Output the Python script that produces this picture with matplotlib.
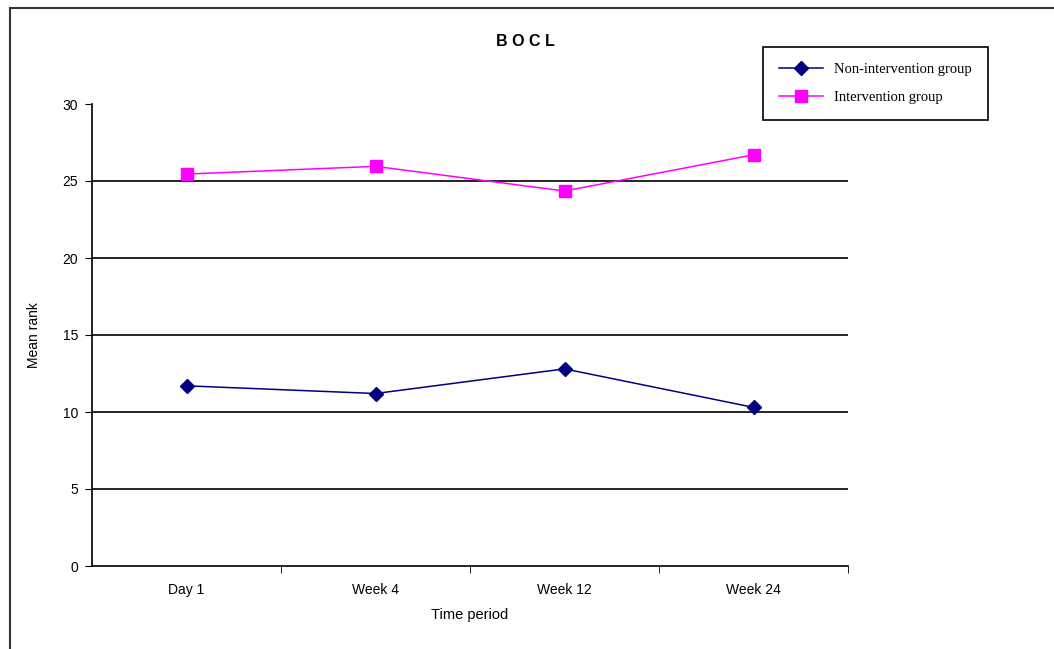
#!/usr/bin/env python3
"""BOCL mean rank by time period, two groups."""

import matplotlib
matplotlib.use("Agg")
import matplotlib.pyplot as plt
from matplotlib.lines import Line2D

# ── data
periods = ["Day 1", "Week 4", "Week 12", "Week 24"]
non_intervention = [11.7, 11.2, 12.8, 10.3]
intervention = [25.45, 25.95, 24.35, 26.7]

plt.rcParams["font.family"] = ["Liberation Sans", "DejaVu Sans"]

fig = plt.figure(figsize=(10.54, 6.49), dpi=100)
ax = fig.add_axes([92 / 1054, 83 / 649, 756 / 1054, 462 / 649])

x = list(range(len(periods)))
ax.plot(x, non_intervention, color="#000080", lw=1.1, marker="D",
        markersize=7, label="Non-intervention group")
ax.plot(x, intervention, color="#FF00FF", lw=1.1, marker="s",
        markersize=8, label="Intervention group")

ax.set_xlim(-0.5, 3.5)
ax.set_ylim(0, 30)
ax.set_yticks(range(0, 31, 5))
for v in range(5, 30, 5):
    ax.axhline(v, color="black", lw=1.2, zorder=0)

# category labels centered, tick marks between categories
ax.set_xticks(x)
ax.set_xticklabels(periods, fontsize=10)
ax.set_xticks([0.5, 1.5, 2.5, 3.5], minor=True)
ax.tick_params(axis="x", which="major", length=0, pad=12)
ax.tick_params(axis="x", which="minor", length=5, direction="out")
ax.tick_params(axis="y", length=5, direction="out", labelsize=10, pad=5)

for s in ("top", "right"):
    ax.spines[s].set_visible(False)
for s in ("left", "bottom"):
    ax.spines[s].set_linewidth(1.2)

ax.set_xlabel("Time period", fontsize=10.5, labelpad=8)
ax.set_ylabel("Mean rank", fontsize=10)
ax.yaxis.set_label_coords(-0.068, 0.5)

fig.text(525 / 1054, 1 - 42 / 649, "B O C L", fontsize=11.5, fontweight="bold",
         ha="center", va="center")

leg = fig.legend(loc="upper left", bbox_to_anchor=(763 / 1054, 1 - 47 / 649),
                 borderaxespad=0, fancybox=False, framealpha=1,
                 prop={"family": "Liberation Serif", "size": 10.5},
                 handlelength=3.0, borderpad=1.1, labelspacing=1.0,
                 handletextpad=0.8)
leg.get_frame().set_edgecolor("black")
leg.get_frame().set_linewidth(1.2)

# outer chart border (left and top edges visible in the reference)
fig.add_artist(Line2D([10 / 1054, 10 / 1054], [0, 1 - 8 / 649],
                      color="#333333", lw=1.5, transform=fig.transFigure))
fig.add_artist(Line2D([10 / 1054, 1], [1 - 8 / 649, 1 - 8 / 649],
                      color="#333333", lw=1.5, transform=fig.transFigure))

fig.savefig("out.png", dpi=100)
